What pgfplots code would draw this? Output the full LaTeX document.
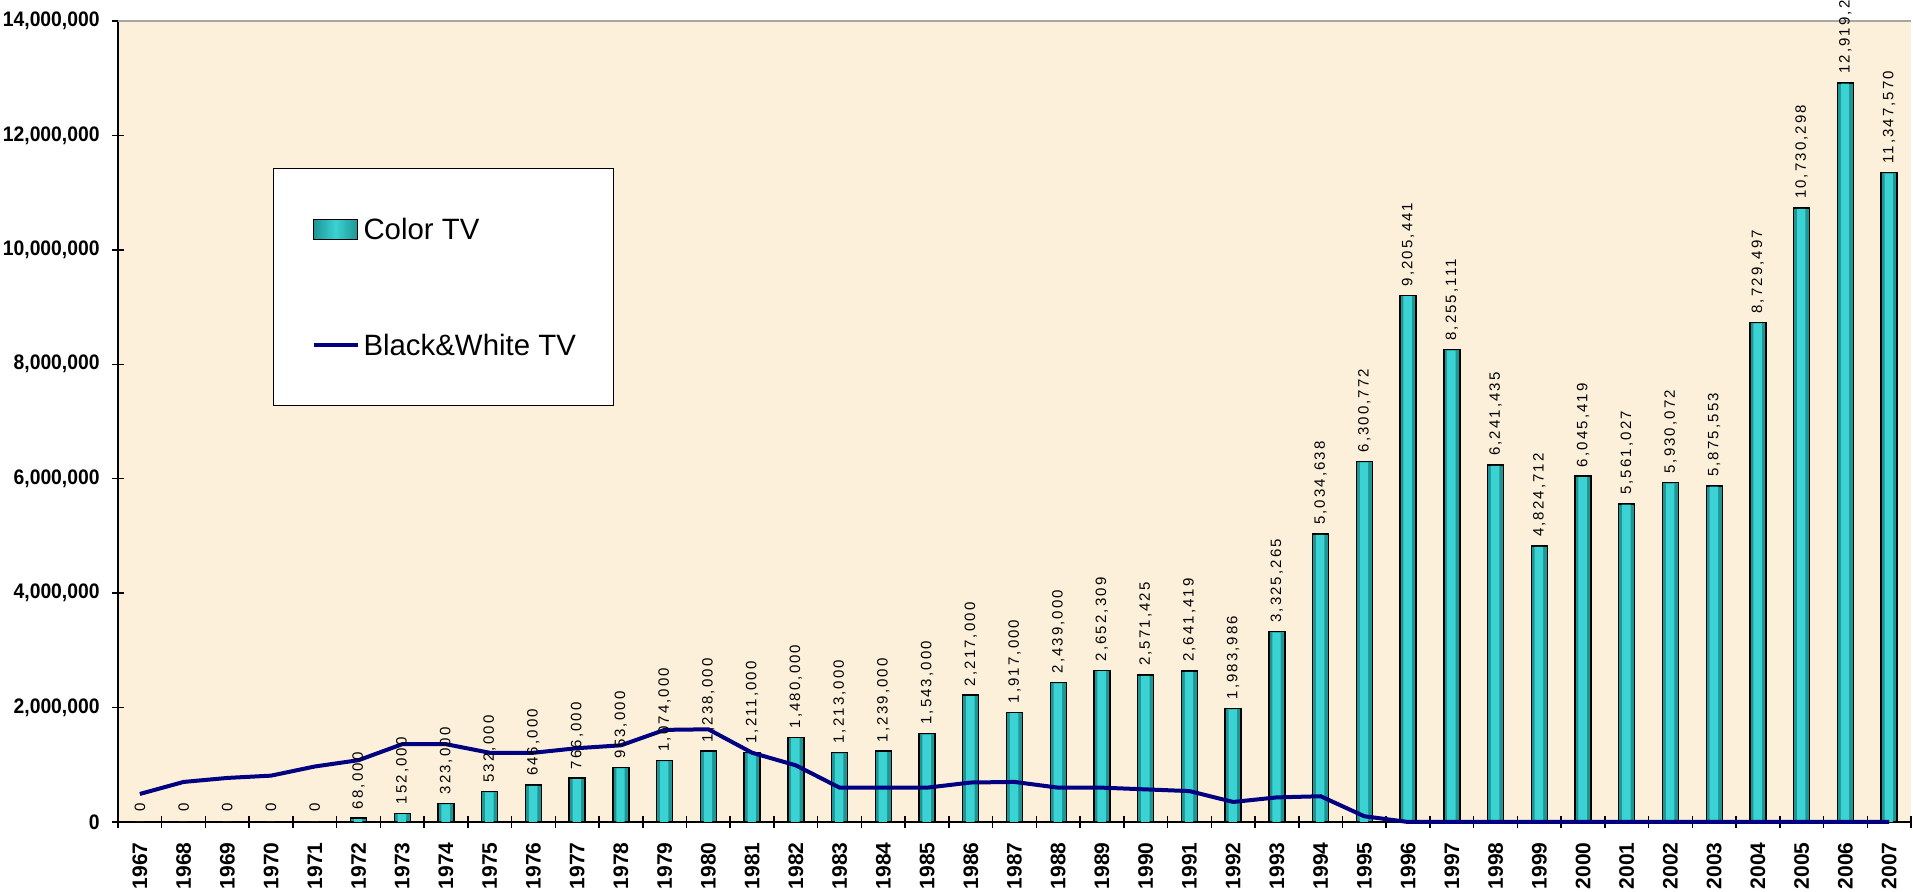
\documentclass[border=0pt]{standalone}
\usepackage{pgfplots}
\pgfplotsset{compat=1.18}
\usepackage{pgfplotstable}
\usepackage{fontspec}
\setmainfont{Liberation Sans}
\newfontfamily\ytickfont[FakeStretch=0.92]{Liberation Sans}
\newfontfamily\lblfont[LetterSpace=14]{Liberation Sans}
\definecolor{parch}{RGB}{253,240,218}
\definecolor{tealmid}{RGB}{58,210,210}
\definecolor{tealedge}{RGB}{30,150,150}
\definecolor{bwline}{RGB}{0,0,128}

\pgfplotstableread{
x color label bw
0 0 0 490000
1 0 0 700000
2 0 0 770000
3 0 0 810000
4 0 0 970000
5 68000 68,000 1080000
6 152000 152,000 1360000
7 323000 323,000 1360000
8 532000 532,000 1210000
9 646000 646,000 1210000
10 766000 766,000 1290000
11 953000 953,000 1340000
12 1074000 1,074,000 1610000
13 1238000 1,238,000 1620000
14 1211000 1,211,000 1210000
15 1480000 1,480,000 990000
16 1213000 1,213,000 600000
17 1239000 1,239,000 600000
18 1543000 1,543,000 600000
19 2217000 2,217,000 690000
20 1917000 1,917,000 700000
21 2439000 2,439,000 600000
22 2652309 2,652,309 600000
23 2571425 2,571,425 570000
24 2641419 2,641,419 540000
25 1983986 1,983,986 350000
26 3325265 3,325,265 430000
27 5034638 5,034,638 450000
28 6300772 6,300,772 100000
29 9205441 9,205,441 0
30 8255111 8,255,111 0
31 6241435 6,241,435 0
32 4824712 4,824,712 0
33 6045419 6,045,419 0
34 5561027 5,561,027 0
35 5930072 5,930,072 0
36 5875553 5,875,553 0
37 8729497 8,729,497 0
38 10730298 10,730,298 0
39 12919250 12,919,250 0
40 11347570 11,347,570 0
}\datatable

\begin{document}
\begin{tikzpicture}
\begin{axis}[
  scale only axis,
  width=896.5pt, height=400.5pt,
  xmin=-0.5, xmax=40.5,
  ymin=0, ymax=14000000,
  clip=false,
  axis background/.style={fill=parch},
  axis x line*=bottom,
  axis y line*=left,
  axis line style={black, line width=0.8pt, -},
  tick align=center,
  major tick length=6pt,
  tick style={black, line width=0.75pt},
  xtick={-0.5,0.5,...,40.5},
  xticklabels={},
  extra x ticks={0,1,...,40},
  extra x tick labels={1967,1968,1969,1970,1971,1972,1973,1974,1975,1976,1977,1978,1979,1980,1981,1982,1983,1984,1985,1986,1987,1988,1989,1990,1991,1992,1993,1994,1995,1996,1997,1998,1999,2000,2001,2002,2003,2004,2005,2006,2007},
  extra x tick style={major tick length=0pt},
  xticklabel style={rotate=90, anchor=east, inner sep=0pt, font=\bfseries\fontsize{10.5}{10.5}\selectfont},
  xticklabel shift=10pt,
  ytick={0,2000000,4000000,6000000,8000000,10000000,12000000,14000000},
  yticklabels={0,{2,000,000},{4,000,000},{6,000,000},{8,000,000},{10,000,000},{12,000,000},{14,000,000}},
  yticklabel style={anchor=east, inner sep=0pt, font=\ytickfont\bfseries\fontsize{10.5}{10.5}\selectfont},
  yticklabel shift=6pt,
  scaled y ticks=false,
  legend style={at={(0.0864,0.81648)}, anchor=north west, draw=black, line width=0.6pt, fill=white,
    inner xsep=19pt, inner ysep=25pt, row sep=47pt, column sep=2pt,
    font=\fontsize{14.7}{14.7}\selectfont,
    nodes={inner sep=0pt, text height=10.6pt, text depth=0pt}},
  legend cell align=left,
]
\addplot[ybar, bar width=8pt, bar shift=0pt, draw=black, line width=0.7pt,
  fill=tealedge,
  legend image code/.code={\path[draw=black, line width=0.7pt, left color=tealedge, right color=tealedge, middle color=tealmid] (0pt,-5pt) rectangle (22pt,5pt);}
] table[x=x, y=color] {\datatable};
\addlegendentry{Color TV}
\addplot[ybar, bar width=4.2pt, bar shift=-0.2pt, draw=none, fill=tealmid, forget plot,
  point meta=explicit symbolic,
  nodes near coords,
  every node near coord/.append style={rotate=90, anchor=west, inner xsep=4.8pt, inner ysep=0pt,
     font=\lblfont\fontsize{7.5}{7.5}\selectfont, black},
] table[x=x, y expr=\thisrow{color}>0 ? \thisrow{color}-16000 : 0, meta=label] {\datatable};
\addplot[bwline, line width=2pt, mark=none, sharp plot,
  legend image code/.code={\draw[bwline, line width=2pt] (0pt,0pt) -- (22pt,0pt);}
] table[x=x, y=bw] {\datatable};
\addlegendentry{Black\&White TV}
\draw[gray!70, line width=0.8pt] (rel axis cs:0,1) -- (rel axis cs:1,1);
\end{axis}
\pgfresetboundingbox
\path[use as bounding box] ([shift={(-59pt,-35pt)}]current axis.south west) rectangle ([shift={(1pt,10.5pt)}]current axis.north east);
\end{tikzpicture}
\end{document}
